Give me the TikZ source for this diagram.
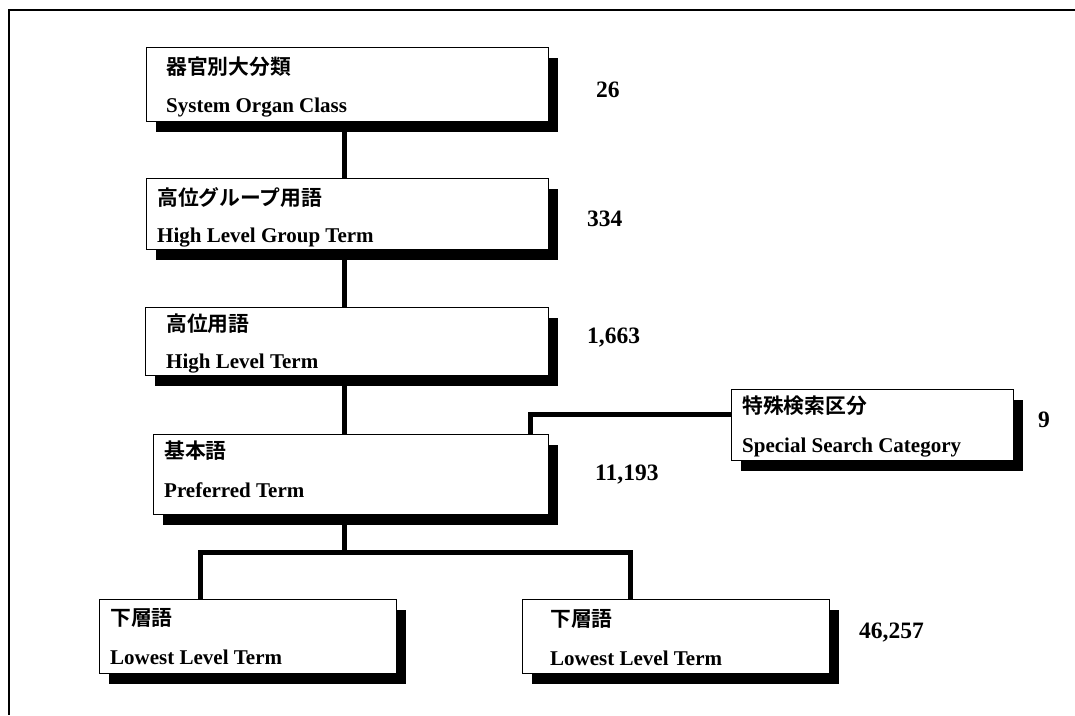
\documentclass[tikz,border=0pt]{standalone}
\usepackage{fontspec}
\setmainfont{Liberation Serif}
\newfontfamily\cjk{Noto Sans CJK JP}[BoldFont={Noto Sans CJK JP Bold}]
\usetikzlibrary{shadows}
\tikzset{
  box/.style={draw, line width=1.3pt, fill=white, inner sep=0pt, anchor=north west,
    drop shadow={shadow xshift=9pt, shadow yshift=-10pt, opacity=1, fill=black}},
  jp/.style={anchor=west, inner sep=0pt, font=\cjk\bfseries\fontsize{20.8}{20.8}\selectfont},
  en/.style={anchor=base west, inner sep=0pt, font=\bfseries\fontsize{21}{21}\selectfont},
  num/.style={anchor=base west, inner sep=0pt, font=\bfseries\fontsize{23.5}{23.5}\selectfont},
  conn/.style={line width=5pt, line join=miter},
  frame/.style={line width=1.5pt}
}
\begin{document}
\begin{tikzpicture}[x=1pt,y=-1pt]
\useasboundingbox (0,0) rectangle (1075,715);
% frame (top and left)
\coordinate (fr) at (1075,10);
\coordinate (fc) at (9,10);
\coordinate (fb) at (9,715);
\draw[frame] (fr) -- (fc) -- (fb);

% boxes
\node[box, minimum width=402pt, minimum height=74pt] (b1) at (146,47) {};
\node[box, minimum width=402pt, minimum height=71pt] (b2) at (146,178) {};
\node[box, minimum width=403pt, minimum height=68pt] (b3) at (145,307) {};
\node[box, minimum width=395pt, minimum height=80pt] (b4) at (153,434) {};
\node[box, minimum width=282pt, minimum height=71pt] (ssc) at (731,389) {};
\node[box, minimum width=297pt, minimum height=74pt] (l1) at (99,599) {};
\node[box, minimum width=307pt, minimum height=74pt] (l2) at (522,599) {};

% connector coordinates
\coordinate (cx) at (344,0);
\coordinate (bus) at (344,552);
\coordinate (jl) at (200,552);
\coordinate (jr) at (630,552);
\coordinate (sj) at (530,414);

% connectors
\draw[conn] (b1.south -| cx) -- (b2.north -| cx);
\draw[conn] (b2.south -| cx) -- (b3.north -| cx);
\draw[conn] (b3.south -| cx) -- (b4.north -| cx);
\draw[conn] (b4.south -| bus) -- (bus);
\draw[conn] (l1.north -| jl) -- (jl) -- (jr) -- (l2.north -| jr);
\draw[conn] (b4.north -| sj) -- (sj) -- (ssc.west |- sj);

% texts
\node[jp] (t1j) at (166,66.5) {器官別大分類};
\node[en] (t1e) at (166,112) {System Organ Class};
\node[jp] (t2j) at (157,197) {高位グループ用語};
\node[en] (t2e) at (157,242) {High Level Group Term};
\node[jp] (t3j) at (166,324) {高位用語};
\node[en] (t3e) at (166,368) {High Level Term};
\node[jp] (t4j) at (164,451) {基本語};
\node[en] (t4e) at (164,497) {Preferred Term};
\node[jp] (t5j) at (742,406) {特殊検索区分};
\node[en] (t5e) at (742,452) {Special Search Category};
\node[jp] (t6j) at (110,618) {下層語};
\node[en] (t6e) at (110,664) {Lowest Level Term};
\node[jp] (t7j) at (550,619) {下層語};
\node[en] (t7e) at (550,665) {Lowest Level Term};

% numbers
\node[num] (n1) at (596,97) {26};
\node[num] (n2) at (587,226) {334};
\node[num] (n3) at (587,343) {1,663};
\node[num] (n4) at (595,480) {11,193};
\node[num] (n5) at (1038,427) {9};
\node[num] (n6) at (859,638) {46,257};
\end{tikzpicture}
\end{document}
